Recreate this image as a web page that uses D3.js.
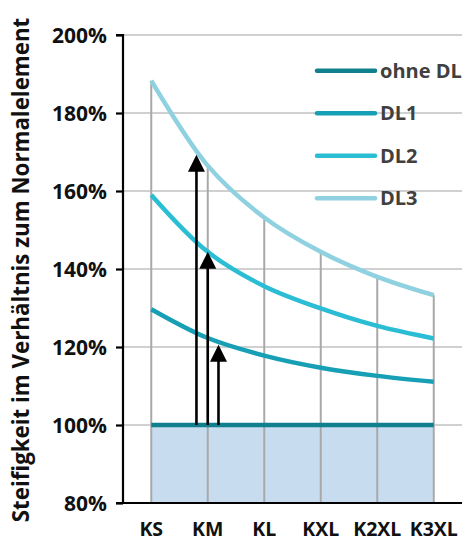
<!DOCTYPE html>
<html><head><meta charset="utf-8">
<script src="https://cdn.jsdelivr.net/npm/d3@7"></script>
<style>body{margin:0;background:#fff}svg{display:block}</style>
</head><body>
<svg id="c" width="462" height="543"></svg>
<script>
const categories = ["KS","KM","KL","KXL","K2XL","K3XL"];
const seriesNames = ["ohne DL","DL1","DL2","DL3"];
const ohneDL = [100,100,100,100,100,100];
const dl1 = [129.7,122.3,117.8,114.7,112.6,111.1];
const dl2 = [159.0,144.4,135.6,129.9,125.4,122.2];
const dl3 = [188.3,166.5,153.2,144.4,138.0,133.3];
const yTicks = [80,100,120,140,160,180,200];
const yTickLabels = ["80%","100%","120%","140%","160%","180%","200%"];
const arrowPos = [0.8, 1.0, 1.19];     // position along category axis (index units)
const arrowTip = [169.3, 144.4, 120.6]; // arrow tip values
const arrowBase = 100;
const yTitle = "Steifigkeit im Verhältnis zum Normalelement";

const colors = ["#10808f","#17a0b5","#2abdd3","#8fd1e0"];
const seriesData = [ohneDL, dl1, dl2, dl3];

const svg = d3.select("#c");
const W = 462, H = 543;
const m = {l:123, r:0, t:35, b:40};

const x = d3.scaleBand().domain(categories).range([m.l, W-m.r]).padding(0);
const cx = c => x(c) + x.bandwidth()/2;
const xi = d3.scaleLinear().domain([0,1]).range([cx(categories[0]), cx(categories[1])]);
const y = d3.scaleLinear().domain([80,200]).range([H-m.b, m.t]);

const area = d3.area().x((d,i)=>cx(categories[i])).y0(y(80)).y1(d=>y(d));
svg.append("path").datum(ohneDL).attr("d", area).attr("fill","#c7ddef");

svg.append("g").selectAll("line").data(yTicks.filter(t=>t>80)).join("line")
  .attr("x1", m.l).attr("x2", W).attr("y1", d=>y(d)).attr("y2", d=>y(d))
  .attr("stroke","#d0d0d0").attr("stroke-width",2);

svg.append("g").selectAll("line").data(categories).join("line")
  .attr("x1", d=>cx(d)).attr("x2", d=>cx(d))
  .attr("y1", y(80)).attr("y2", (d,i)=>y(dl3[i]))
  .attr("stroke","#a8a8a8").attr("stroke-width",2);

const line = d3.line().x((d,i)=>cx(categories[i])).y(d=>y(d)).curve(d3.curveCatmullRom.alpha(0.5));
[3,2,1,0].forEach(k=>{
  svg.append("path").datum(seriesData[k]).attr("d", line)
    .attr("fill","none").attr("stroke", colors[k]).attr("stroke-width",4.5);
});

const aw = 8.5, ah = 17;
arrowPos.forEach((p,i)=>{
  const ax = xi(p), yt = y(arrowTip[i]), yb = y(arrowBase);
  svg.append("line").attr("x1",ax).attr("x2",ax).attr("y1",yb).attr("y2",yt+ah-1)
    .attr("stroke","#000").attr("stroke-width",2.6);
  svg.append("path").attr("d",`M${ax},${yt}L${ax-aw},${yt+ah}L${ax+aw},${yt+ah}Z`).attr("fill","#000");
});

const yAxis = d3.axisLeft(y).tickValues(yTicks).tickSize(7).tickFormat((d,i)=>yTickLabels[i]);
const gy = svg.append("g").attr("transform",`translate(${m.l},0)`).call(yAxis);
gy.select(".domain").attr("d", `M-7,${y(200)}H0V${y(80)}`).attr("stroke","#000").attr("stroke-width",2.2).attr("fill","none");
gy.selectAll(".tick line").attr("stroke","#000").attr("stroke-width",2.2);
gy.selectAll(".tick text").attr("x",-16).attr("dy","0.35em")
  .attr("font-family","Open Sans, sans-serif").attr("font-weight",700).attr("font-size",21).attr("fill","#111");

const xAxis = d3.axisBottom(x).tickSize(0);
const gx = svg.append("g").attr("transform",`translate(0,${y(80)})`).call(xAxis);
gx.select(".domain").attr("d", `M${m.l-7},0H${W}`).attr("stroke","#000").attr("stroke-width",2.2);
gx.selectAll(".tick text").attr("y",26).attr("dy","0.35em")
  .attr("font-family","Open Sans, sans-serif").attr("font-weight",700).attr("font-size",19.5).attr("fill","#111");

svg.append("text").attr("transform",`translate(28.5,${(18+522)/2}) rotate(-90)`)
  .attr("text-anchor","middle").attr("font-family","Open Sans, sans-serif")
  .attr("font-weight",700).attr("font-size",22.3).attr("fill","#111").text(yTitle);

const lg = svg.append("g");
seriesNames.forEach((n,i)=>{
  const ly = 70.7 + i*42.5;
  lg.append("line").attr("x1",317).attr("x2",375).attr("y1",ly).attr("y2",ly)
    .attr("stroke",colors[i]).attr("stroke-width",4.5).attr("stroke-linecap","round");
  lg.append("text").attr("x",380).attr("y",ly).attr("dy","0.35em")
    .attr("font-family","Open Sans, sans-serif").attr("font-weight",700).attr("font-size",20)
    .attr("fill","#404040").text(n);
});
</script>
</body></html>
